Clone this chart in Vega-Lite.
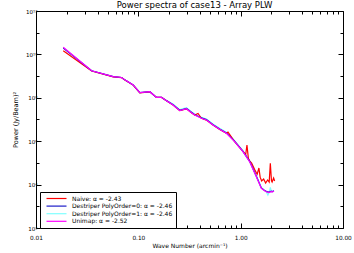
{
  "$schema": "https://vega.github.io/schema/vega-lite/v6.json",
  "width": 307,
  "height": 217,
  "autosize": {"type": "none"},
  "padding": {"left": 36, "top": 11, "right": 11, "bottom": 25},
  "background": "white",
  "title": {"text": "Power spectra of case13 - Array PLW", "fontSize": 8.5, "font": "DejaVu Sans", "fontWeight": "normal", "offset": 0, "dy": 0, "dx": 5, "color": "black"},
  "config": {
    "view": {"stroke": "black", "strokeWidth": 1},
    "axis": {"domain": false, "grid": false, "tickColor": "black", "labelColor": "black", "titleColor": "black", "labelFont": "DejaVu Sans", "titleFont": "DejaVu Sans", "titleFontWeight": "normal"}
  },
  "data": {"values": [
    {"s": "Destriper PolyOrder=1: α = -2.46", "k": 0.01846, "p": 2.05e10},
    {"s": "Destriper PolyOrder=1: α = -2.46", "k": 0.03496, "p": 1.77e9},
    {"s": "Destriper PolyOrder=1: α = -2.46", "k": 0.05677, "p": 9.4e8},
    {"s": "Destriper PolyOrder=1: α = -2.46", "k": 0.0685, "p": 8.6e8},
    {"s": "Destriper PolyOrder=1: α = -2.46", "k": 0.0738, "p": 6.7e8},
    {"s": "Destriper PolyOrder=1: α = -2.46", "k": 0.089, "p": 3.9e8},
    {"s": "Destriper PolyOrder=1: α = -2.46", "k": 0.1034, "p": 1.72e8},
    {"s": "Destriper PolyOrder=1: α = -2.46", "k": 0.1295, "p": 1.91e8},
    {"s": "Destriper PolyOrder=1: α = -2.46", "k": 0.1505, "p": 1.05e8},
    {"s": "Destriper PolyOrder=1: α = -2.46", "k": 0.1684, "p": 1.05e8},
    {"s": "Destriper PolyOrder=1: α = -2.46", "k": 0.1884, "p": 7.5e7},
    {"s": "Destriper PolyOrder=1: α = -2.46", "k": 0.2185, "p": 5.2e7},
    {"s": "Destriper PolyOrder=1: α = -2.46", "k": 0.2541, "p": 2.85e7},
    {"s": "Destriper PolyOrder=1: α = -2.46", "k": 0.2953, "p": 3.5e7},
    {"s": "Destriper PolyOrder=1: α = -2.46", "k": 0.3304, "p": 2.3e7},
    {"s": "Destriper PolyOrder=1: α = -2.46", "k": 0.3557, "p": 1.8e7},
    {"s": "Destriper PolyOrder=1: α = -2.46", "k": 0.4137, "p": 1.27e7},
    {"s": "Destriper PolyOrder=1: α = -2.46", "k": 0.4627, "p": 1.06e7},
    {"s": "Destriper PolyOrder=1: α = -2.46", "k": 0.5368, "p": 6.25e6},
    {"s": "Destriper PolyOrder=1: α = -2.46", "k": 0.6239, "p": 3.95e6},
    {"s": "Destriper PolyOrder=1: α = -2.46", "k": 0.7254, "p": 2.6e6},
    {"s": "Destriper PolyOrder=1: α = -2.46", "k": 0.874, "p": 1.06e6},
    {"s": "Destriper PolyOrder=1: α = -2.46", "k": 1.053, "p": 3.7e5},
    {"s": "Destriper PolyOrder=1: α = -2.46", "k": 1.224, "p": 1.27e5},
    {"s": "Destriper PolyOrder=1: α = -2.46", "k": 1.423, "p": 2.6e4},
    {"s": "Destriper PolyOrder=1: α = -2.46", "k": 1.592, "p": 7.2e3},
    {"s": "Destriper PolyOrder=1: α = -2.46", "k": 1.7, "p": 5.6e3},
    {"s": "Destriper PolyOrder=1: α = -2.46", "k": 1.781, "p": 4.6e3},
    {"s": "Destriper PolyOrder=1: α = -2.46", "k": 1.846, "p": 3.3e3},
    {"s": "Destriper PolyOrder=1: α = -2.46", "k": 1.9, "p": 4.4e3},
    {"s": "Destriper PolyOrder=1: α = -2.46", "k": 1.95, "p": 7.5e3},
    {"s": "Destriper PolyOrder=1: α = -2.46", "k": 2.0, "p": 4.6e3},
    {"s": "Destriper PolyOrder=1: α = -2.46", "k": 2.113, "p": 5.3e3},

    {"s": "Naive: α = -2.43", "k": 0.01846, "p": 1.48e10},
    {"s": "Naive: α = -2.43", "k": 0.03496, "p": 1.72e9},
    {"s": "Naive: α = -2.43", "k": 0.05677, "p": 9.3e8},
    {"s": "Naive: α = -2.43", "k": 0.0685, "p": 8.5e8},
    {"s": "Naive: α = -2.43", "k": 0.0738, "p": 6.6e8},
    {"s": "Naive: α = -2.43", "k": 0.089, "p": 3.85e8},
    {"s": "Naive: α = -2.43", "k": 0.1034, "p": 1.7e8},
    {"s": "Naive: α = -2.43", "k": 0.1295, "p": 1.88e8},
    {"s": "Naive: α = -2.43", "k": 0.1505, "p": 1.04e8},
    {"s": "Naive: α = -2.43", "k": 0.1684, "p": 1.04e8},
    {"s": "Naive: α = -2.43", "k": 0.1884, "p": 7.3e7},
    {"s": "Naive: α = -2.43", "k": 0.2185, "p": 4.6e7},
    {"s": "Naive: α = -2.43", "k": 0.2541, "p": 2.55e7},
    {"s": "Naive: α = -2.43", "k": 0.2953, "p": 3.1e7},
    {"s": "Naive: α = -2.43", "k": 0.3304, "p": 2.05e7},
    {"s": "Naive: α = -2.43", "k": 0.3557, "p": 1.6e7},
    {"s": "Naive: α = -2.43", "k": 0.383, "p": 1.9e7},
    {"s": "Naive: α = -2.43", "k": 0.4137, "p": 1.13e7},
    {"s": "Naive: α = -2.43", "k": 0.4627, "p": 9.4e6},
    {"s": "Naive: α = -2.43", "k": 0.5368, "p": 5.55e6},
    {"s": "Naive: α = -2.43", "k": 0.6239, "p": 3.5e6},
    {"s": "Naive: α = -2.43", "k": 0.7254, "p": 2.3e6},
    {"s": "Naive: α = -2.43", "k": 0.7516, "p": 2.6e6},
    {"s": "Naive: α = -2.43", "k": 0.874, "p": 9.6e5},
    {"s": "Naive: α = -2.43", "k": 1.053, "p": 3.4e5},
    {"s": "Naive: α = -2.43", "k": 1.12, "p": 2.4e5},
    {"s": "Naive: α = -2.43", "k": 1.152, "p": 6.7e5},
    {"s": "Naive: α = -2.43", "k": 1.19, "p": 1.6e5},
    {"s": "Naive: α = -2.43", "k": 1.224, "p": 1.25e5},
    {"s": "Naive: α = -2.43", "k": 1.28, "p": 9.9e4},
    {"s": "Naive: α = -2.43", "k": 1.37, "p": 5.0e4},
    {"s": "Naive: α = -2.43", "k": 1.45, "p": 3.0e4},
    {"s": "Naive: α = -2.43", "k": 1.508, "p": 5.8e4},
    {"s": "Naive: α = -2.43", "k": 1.55, "p": 2.2e4},
    {"s": "Naive: α = -2.43", "k": 1.603, "p": 1.47e4},
    {"s": "Naive: α = -2.43", "k": 1.677, "p": 1.81e4},
    {"s": "Naive: α = -2.43", "k": 1.754, "p": 1.19e4},
    {"s": "Naive: α = -2.43", "k": 1.834, "p": 1.63e4},
    {"s": "Naive: α = -2.43", "k": 1.9, "p": 1.3e4},
    {"s": "Naive: α = -2.43", "k": 1.949, "p": 9.6e4},
    {"s": "Naive: α = -2.43", "k": 2.0, "p": 1.5e4},
    {"s": "Naive: α = -2.43", "k": 2.029, "p": 1.32e4},
    {"s": "Naive: α = -2.43", "k": 2.099, "p": 2.01e4},
    {"s": "Naive: α = -2.43", "k": 2.146, "p": 1.47e4},

    {"s": "Destriper PolyOrder=0: α = -2.46", "k": 0.01846, "p": 1.95e10},
    {"s": "Destriper PolyOrder=0: α = -2.46", "k": 0.03496, "p": 1.77e9},
    {"s": "Destriper PolyOrder=0: α = -2.46", "k": 0.05677, "p": 9.4e8},
    {"s": "Destriper PolyOrder=0: α = -2.46", "k": 0.0685, "p": 8.6e8},
    {"s": "Destriper PolyOrder=0: α = -2.46", "k": 0.0738, "p": 6.7e8},
    {"s": "Destriper PolyOrder=0: α = -2.46", "k": 0.089, "p": 3.9e8},
    {"s": "Destriper PolyOrder=0: α = -2.46", "k": 0.1034, "p": 1.72e8},
    {"s": "Destriper PolyOrder=0: α = -2.46", "k": 0.1295, "p": 1.91e8},
    {"s": "Destriper PolyOrder=0: α = -2.46", "k": 0.1505, "p": 1.05e8},
    {"s": "Destriper PolyOrder=0: α = -2.46", "k": 0.1684, "p": 1.05e8},
    {"s": "Destriper PolyOrder=0: α = -2.46", "k": 0.1884, "p": 7.4e7},
    {"s": "Destriper PolyOrder=0: α = -2.46", "k": 0.2185, "p": 4.85e7},
    {"s": "Destriper PolyOrder=0: α = -2.46", "k": 0.2541, "p": 2.65e7},
    {"s": "Destriper PolyOrder=0: α = -2.46", "k": 0.2953, "p": 3.28e7},
    {"s": "Destriper PolyOrder=0: α = -2.46", "k": 0.3304, "p": 2.14e7},
    {"s": "Destriper PolyOrder=0: α = -2.46", "k": 0.3557, "p": 1.67e7},
    {"s": "Destriper PolyOrder=0: α = -2.46", "k": 0.4137, "p": 1.18e7},
    {"s": "Destriper PolyOrder=0: α = -2.46", "k": 0.4627, "p": 9.9e6},
    {"s": "Destriper PolyOrder=0: α = -2.46", "k": 0.5368, "p": 5.8e6},
    {"s": "Destriper PolyOrder=0: α = -2.46", "k": 0.6239, "p": 3.67e6},
    {"s": "Destriper PolyOrder=0: α = -2.46", "k": 0.7254, "p": 2.4e6},
    {"s": "Destriper PolyOrder=0: α = -2.46", "k": 0.874, "p": 9.9e5},
    {"s": "Destriper PolyOrder=0: α = -2.46", "k": 1.053, "p": 3.4e5},
    {"s": "Destriper PolyOrder=0: α = -2.46", "k": 1.224, "p": 1.18e5},
    {"s": "Destriper PolyOrder=0: α = -2.46", "k": 1.423, "p": 2.4e4},
    {"s": "Destriper PolyOrder=0: α = -2.46", "k": 1.592, "p": 7.0e3},
    {"s": "Destriper PolyOrder=0: α = -2.46", "k": 1.7, "p": 5.5e3},
    {"s": "Destriper PolyOrder=0: α = -2.46", "k": 1.781, "p": 4.9e3},
    {"s": "Destriper PolyOrder=0: α = -2.46", "k": 1.88, "p": 4.5e3},
    {"s": "Destriper PolyOrder=0: α = -2.46", "k": 1.993, "p": 5.0e3},
    {"s": "Destriper PolyOrder=0: α = -2.46", "k": 2.05, "p": 4.8e3},
    {"s": "Destriper PolyOrder=0: α = -2.46", "k": 2.113, "p": 5.2e3},

    {"s": "Unimap: α = -2.52", "k": 0.01846, "p": 2.12e10},
    {"s": "Unimap: α = -2.52", "k": 0.03496, "p": 1.77e9},
    {"s": "Unimap: α = -2.52", "k": 0.05677, "p": 9.4e8},
    {"s": "Unimap: α = -2.52", "k": 0.0685, "p": 8.6e8},
    {"s": "Unimap: α = -2.52", "k": 0.0738, "p": 6.7e8},
    {"s": "Unimap: α = -2.52", "k": 0.089, "p": 3.9e8},
    {"s": "Unimap: α = -2.52", "k": 0.1034, "p": 1.72e8},
    {"s": "Unimap: α = -2.52", "k": 0.1295, "p": 1.91e8},
    {"s": "Unimap: α = -2.52", "k": 0.1505, "p": 1.05e8},
    {"s": "Unimap: α = -2.52", "k": 0.1684, "p": 1.05e8},
    {"s": "Unimap: α = -2.52", "k": 0.1884, "p": 7.35e7},
    {"s": "Unimap: α = -2.52", "k": 0.2185, "p": 4.66e7},
    {"s": "Unimap: α = -2.52", "k": 0.2541, "p": 2.55e7},
    {"s": "Unimap: α = -2.52", "k": 0.2953, "p": 3.15e7},
    {"s": "Unimap: α = -2.52", "k": 0.3304, "p": 2.06e7},
    {"s": "Unimap: α = -2.52", "k": 0.3557, "p": 1.61e7},
    {"s": "Unimap: α = -2.52", "k": 0.4137, "p": 1.135e7},
    {"s": "Unimap: α = -2.52", "k": 0.4627, "p": 9.48e6},
    {"s": "Unimap: α = -2.52", "k": 0.5368, "p": 5.58e6},
    {"s": "Unimap: α = -2.52", "k": 0.6239, "p": 3.53e6},
    {"s": "Unimap: α = -2.52", "k": 0.7254, "p": 2.31e6},
    {"s": "Unimap: α = -2.52", "k": 0.874, "p": 9.48e5},
    {"s": "Unimap: α = -2.52", "k": 1.053, "p": 3.28e5},
    {"s": "Unimap: α = -2.52", "k": 1.224, "p": 1.135e5},
    {"s": "Unimap: α = -2.52", "k": 1.423, "p": 2.31e4},
    {"s": "Unimap: α = -2.52", "k": 1.592, "p": 6.75e3},
    {"s": "Unimap: α = -2.52", "k": 1.7, "p": 5.3e3},
    {"s": "Unimap: α = -2.52", "k": 1.781, "p": 4.71e3},
    {"s": "Unimap: α = -2.52", "k": 1.88, "p": 4.3e3},
    {"s": "Unimap: α = -2.52", "k": 1.993, "p": 4.71e3},
    {"s": "Unimap: α = -2.52", "k": 2.05, "p": 4.6e3},
    {"s": "Unimap: α = -2.52", "k": 2.113, "p": 5.07e3}
  ]},
  "layer": [
    {
      "mark": {"type": "line", "interpolate": "linear"},
      "encoding": {
        "x": {"field": "k", "type": "quantitative",
          "scale": {"type": "log", "domain": [0.01, 10], "nice": false},
          "axis": {"orient": "bottom", "values": [0.01,0.02,0.03,0.04,0.05,0.06,0.07,0.08,0.09,0.1,0.2,0.3,0.4,0.5,0.6,0.7,0.8,0.9,1,2,3,4,5,6,7,8,9,10],
            "labelExpr": "abs(log(datum.value)/LN10 - round(log(datum.value)/LN10)) < 0.001 ? format(datum.value, '.2f') : ''",
            "tickSize": {"condition": {"test": "abs(log(datum.value)/LN10 - round(log(datum.value)/LN10)) < 0.001", "value": -5}, "value": -3},
            "labelPadding": 11, "labelFontSize": 5.8, "labelFlush": false, "labelOverlap": false,
            "title": "Wave Number (arcmin⁻¹)", "titleFontSize": 6, "titleX": 153.5, "titleY": 17, "titleBaseline": "middle", "titleAlign": "center"}},
        "y": {"field": "p", "type": "quantitative",
          "scale": {"type": "log", "domain": [100, 1e12], "nice": false},
          "axis": {"orient": "left", "values": [1e2,1e3,1e4,1e5,1e6,1e7,1e8,1e9,1e10,1e11,1e12],
            "labelExpr": "round(log(datum.value)/LN10) == 2 ? '10²' : round(log(datum.value)/LN10) == 4 ? '10⁴' : round(log(datum.value)/LN10) == 6 ? '10⁶' : round(log(datum.value)/LN10) == 8 ? '10⁸' : round(log(datum.value)/LN10) == 10 ? '10¹⁰' : round(log(datum.value)/LN10) == 12 ? '10¹²' : ''",
            "tickSize": {"condition": {"test": "round(log(datum.value)/LN10) % 2 == 0", "value": -5}, "value": -3},
            "labelPadding": 4, "labelFontSize": 5.5, "labelFlush": false, "labelOverlap": false,
            "title": "Power (Jy/Beam)²", "titleFontSize": 6.5, "titleX": -21, "titleY": 108.5, "titleAngle": -90, "titleBaseline": "middle", "titleAlign": "center"}},
        "color": {"field": "s", "type": "nominal",
          "scale": {"domain": ["Naive: α = -2.43", "Destriper PolyOrder=0: α = -2.46", "Destriper PolyOrder=1: α = -2.46", "Unimap: α = -2.52"],
                    "range": ["#ff0000", "#1c1cc8", "#80ffff", "#ff00ff"]},
          "legend": {"orient": "none", "legendX": 4, "legendY": 181, "title": null, "symbolType": "M0,0H8", "symbolSize": 25,
            "labelFontSize": 6, "labelFont": "DejaVu Sans", "labelColor": "black", "labelOffset": 22, "padding": 3, "rowPadding": 0.6,
            "strokeColor": "black", "fillColor": "white", "labelLimit": 0}},
        "strokeWidth": {"field": "s", "type": "nominal",
          "scale": {"domain": ["Naive: α = -2.43", "Destriper PolyOrder=0: α = -2.46", "Destriper PolyOrder=1: α = -2.46", "Unimap: α = -2.52"],
                    "range": [1.2, 1.2, 2.8, 1.2]},
          "legend": {"orient": "none", "legendX": 4, "legendY": 181, "title": null, "symbolType": "M0,0H8", "symbolSize": 25,
            "labelFontSize": 6, "labelFont": "DejaVu Sans", "labelColor": "black", "labelOffset": 22, "padding": 3, "rowPadding": 0.6,
            "strokeColor": "black", "fillColor": "white", "labelLimit": 0}}
      }
    },
    {
      "mark": {"type": "point", "opacity": 0},
      "encoding": {
        "x": {"field": "k", "type": "quantitative",
          "scale": {"type": "log", "domain": [0.01, 10], "nice": false},
          "axis": {"orient": "top", "values": [0.01,0.02,0.03,0.04,0.05,0.06,0.07,0.08,0.09,0.1,0.2,0.3,0.4,0.5,0.6,0.7,0.8,0.9,1,2,3,4,5,6,7,8,9,10],
            "labels": false, "title": null,
            "tickSize": {"condition": {"test": "abs(log(datum.value)/LN10 - round(log(datum.value)/LN10)) < 0.001", "value": -5}, "value": -3}}},
        "y": {"field": "p", "type": "quantitative",
          "scale": {"type": "log", "domain": [100, 1e12], "nice": false},
          "axis": {"orient": "right", "values": [1e2,1e3,1e4,1e5,1e6,1e7,1e8,1e9,1e10,1e11,1e12],
            "labels": false, "title": null,
            "tickSize": {"condition": {"test": "round(log(datum.value)/LN10) % 2 == 0", "value": -5}, "value": -3}}}
      }
    }
  ],
  "resolve": {"axis": {"x": "independent", "y": "independent"}}
}
